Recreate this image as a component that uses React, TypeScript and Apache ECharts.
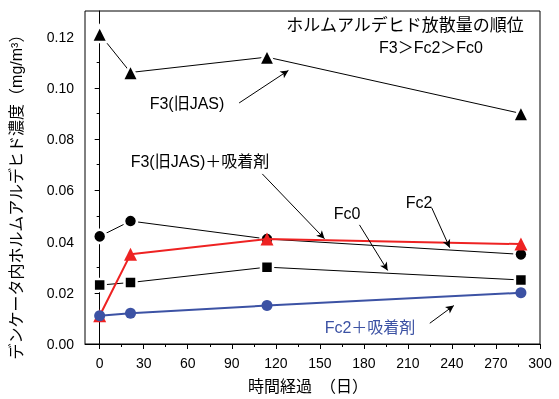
import React, { useEffect, useRef } from "react";
import * as echarts from "echarts";

// Elapsed days at each measurement
const days = [0, 21, 114, 287];

// Formaldehyde concentration in the desiccator (mg/m³)
const f3 = [0.121, 0.106, 0.112, 0.09];
const f3Adsorbent = [0.042, 0.048, 0.041, 0.035];
const fc0 = [0.023, 0.024, 0.03, 0.025];
const fc2 = [0.011, 0.035, 0.041, 0.039];
const fc2Adsorbent = [0.011, 0.012, 0.015, 0.02];

// Axis ticks
const xMajor = [0, 30, 60, 90, 120, 150, 180, 210, 240, 270, 300];
const xMinor = [15, 45, 75, 105, 135, 165, 195, 225, 255, 285];
const yMajor = [0, 0.02, 0.04, 0.06, 0.08, 0.1, 0.12];
const yMinor = [0.01, 0.03, 0.05, 0.07, 0.09, 0.11];

// Annotation arrows in data coordinates: [fromDay, fromValue, toDay, toValue]
const arrows: number[][] = [
  [95, 0.0941, 128.6, 0.1068],
  [110.8, 0.0664, 153.2, 0.0411],
  [177, 0.0465, 196.2, 0.0287],
  [226.3, 0.0531, 238.5, 0.0376],
  [224.9, 0.0081, 241.3, 0.015],
];

const FONT = "Arial, 'Liberation Sans', 'Noto Sans CJK JP', sans-serif";
const RED = "#ee2222";
const BLUE = "#3c52a4";

const pairs = (vals: number[]) => days.map((d, i) => [d, vals[i]]);

export default function App() {
  const ref = useRef<HTMLDivElement>(null);

  useEffect(() => {
    if (!ref.current) return;
    const chart = echarts.init(ref.current, null, { renderer: "svg" });

    const xBase = {
      type: "value" as const,
      min: -10,
      max: 300,
      splitLine: { show: false },
    };
    const yBase = {
      type: "value" as const,
      min: 0,
      max: 0.13,
      splitLine: { show: false },
    };

    // Black series: a white outline keeps the connecting lines short of each marker
    const blackLine = (name: string, vals: number[], symbol: string, size: number, extra: any = {}) => ({
      name,
      type: "line",
      data: pairs(vals),
      symbol,
      symbolSize: size,
      showSymbol: true,
      lineStyle: { color: "#000", width: 1 },
      itemStyle: { color: "#000", borderColor: "#fff", borderWidth: 2.5 },
      z: 2,
      ...extra,
    });

    chart.setOption({
      animation: false,
      textStyle: { fontFamily: FONT },
      grid: {
        left: 85,
        right: 19,
        top: 11,
        bottom: 55,
        show: true,
        borderColor: "#000",
        borderWidth: 1,
        backgroundColor: "transparent",
      },
      xAxis: [
        {
          ...xBase,
          axisLine: { show: true, lineStyle: { color: "#000", width: 1 } },
          axisTick: { show: true, inside: false, length: 5, customValues: xMajor, lineStyle: { color: "#000" } },
          axisLabel: {
            customValues: xMajor,
            color: "#000",
            fontSize: 14,
            fontFamily: FONT,
            margin: 12,
          },
        },
        {
          ...xBase,
          position: "bottom",
          axisLine: { show: false },
          axisTick: { show: true, inside: false, length: 3, customValues: xMinor, lineStyle: { color: "#000" } },
          axisLabel: { show: false },
        },
      ],
      yAxis: [
        {
          ...yBase,
          axisLine: { show: true, lineStyle: { color: "#000", width: 1 } },
          axisTick: { show: true, inside: false, length: 5, customValues: yMajor, lineStyle: { color: "#000" } },
          axisLabel: {
            customValues: yMajor,
            color: "#000",
            fontSize: 14,
            fontFamily: FONT,
            margin: 11,
            formatter: (v: number) => v.toFixed(2),
          },
        },
        {
          ...yBase,
          position: "left",
          axisLine: { show: false },
          axisTick: { show: true, inside: false, length: 3, customValues: yMinor, lineStyle: { color: "#000" } },
          axisLabel: { show: false },
        },
      ],
      series: [
        blackLine("F3(旧JAS)＋吸着剤", f3Adsorbent, "circle", 13),
        blackLine("Fc0", fc0, "rect", 12),
        blackLine("F3(旧JAS)", f3, "triangle", 16, {
          markLine: {
            silent: true,
            symbol: ["none", "arrow"],
            symbolSize: [6, 8],
            label: { show: false },
            lineStyle: { color: "#000", width: 1, type: "solid" },
            data: arrows.map((a) => [
              { coord: [a[0], a[1]] },
              { coord: [a[2], a[3]] },
            ]),
          },
        }),
        {
          name: "Fc2",
          type: "line",
          data: pairs(fc2),
          symbol: "triangle",
          symbolSize: 13,
          lineStyle: { color: RED, width: 2 },
          itemStyle: { color: RED },
          z: 3,
        },
        {
          name: "Fc2＋吸着剤",
          type: "line",
          data: pairs(fc2Adsorbent),
          symbol: "circle",
          symbolSize: 11,
          lineStyle: { color: BLUE, width: 2 },
          itemStyle: { color: BLUE },
          z: 4,
        },
      ],
      graphic: [
        {
          type: "text",
          x: 405,
          y: 25,
          style: {
            text: "ホルムアルデヒド放散量の順位",
            fontSize: 17,
            fontFamily: FONT,
            fill: "#000",
            align: "center",
            verticalAlign: "middle",
          },
        },
        {
          type: "text",
          x: 431,
          y: 47,
          style: {
            text: "F3＞Fc2＞Fc0",
            fontSize: 16,
            fontFamily: FONT,
            fill: "#000",
            align: "center",
            verticalAlign: "middle",
          },
        },
        {
          type: "text",
          x: 187,
          y: 103,
          style: { text: "F3(旧JAS)", fontSize: 16, fontFamily: FONT, fill: "#000", align: "center", verticalAlign: "middle" },
        },
        {
          type: "text",
          x: 200,
          y: 161,
          style: { text: "F3(旧JAS)＋吸着剤", fontSize: 16, fontFamily: FONT, fill: "#000", align: "center", verticalAlign: "middle" },
        },
        {
          type: "text",
          x: 347,
          y: 213,
          style: { text: "Fc0", fontSize: 16, fontFamily: FONT, fill: "#000", align: "center", verticalAlign: "middle" },
        },
        {
          type: "text",
          x: 419,
          y: 202,
          style: { text: "Fc2", fontSize: 16, fontFamily: FONT, fill: "#000", align: "center", verticalAlign: "middle" },
        },
        {
          type: "text",
          x: 370,
          y: 327,
          style: { text: "Fc2＋吸着剤", fontSize: 16, fontFamily: FONT, fill: BLUE, align: "center", verticalAlign: "middle" },
        },
        {
          type: "text",
          x: 308,
          y: 386,
          style: { text: "時間経過　（日）", fontSize: 16, fontFamily: FONT, fill: "#000", align: "center", verticalAlign: "middle" },
        },
        {
          type: "text",
          x: 16,
          y: 193,
          rotation: Math.PI / 2,
          style: {
            text: "デンケータ内ホルムアルデヒド濃度（mg/m³）",
            fontSize: 16,
            fontFamily: FONT,
            fill: "#000",
            align: "center",
            verticalAlign: "middle",
          },
        },
      ],
    });

    return () => chart.dispose();
  }, []);

  return (
    <div
      ref={ref}
      style={{ position: "fixed", left: 0, top: 0, width: 559, height: 399 }}
    />
  );
}
